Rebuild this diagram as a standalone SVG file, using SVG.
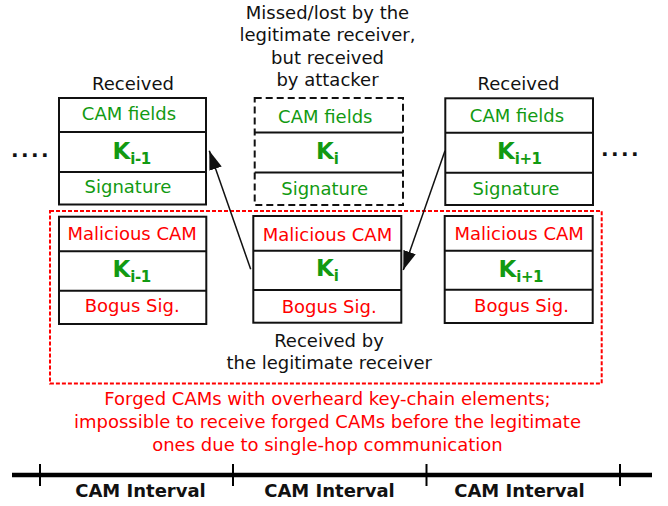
<svg xmlns="http://www.w3.org/2000/svg" width="668" height="506" viewBox="0 0 668 506">
<style>
text{font-family:"DejaVu Sans","Liberation Sans",sans-serif;font-size:18px;}
.c{text-anchor:middle;}
.blk{fill:#111;}
.g{fill:#129a12;}
.r{fill:#ff0000;}
.k{font-weight:bold;font-size:23px;fill:#129a12;}
.ks{font-size:15px;letter-spacing:-0.5px;}
.box{fill:#fff;stroke:#111;stroke-width:2;}
.dbox{fill:#fff;stroke:#111;stroke-width:2;stroke-dasharray:7,4;}
.div{stroke:#111;stroke-width:2;}
.b{font-weight:bold;}
</style>
<defs>
<marker id="ah" markerUnits="userSpaceOnUse" markerWidth="20" markerHeight="14" refX="19" refY="6.5" orient="auto">
<path d="M0,0 L19,6.5 L0,13 z" fill="#111"/>
</marker>
</defs>

<rect id="forged-region" x="50" y="211" width="551.7" height="172.5" fill="none" stroke="#ff0000" stroke-width="2" stroke-dasharray="4,2"/>

<g id="label-missed">
<text class="c blk" x="327.5" y="18.5">Missed/lost by the</text>
<text class="c blk" x="327.5" y="41">legitimate receiver,</text>
<text class="c blk" x="327.5" y="63.5">but received</text>
<text class="c blk" x="327.5" y="86">by attacker</text>
</g>
<text class="c blk" x="133" y="90">Received</text>
<text class="c blk" x="518.5" y="90">Received</text>
<text class="blk b" x="11" y="156.5" style="letter-spacing:2.4px;font-size:20px">....</text>
<text class="blk b" x="601" y="156" style="letter-spacing:2.4px;font-size:20px">....</text>

<g id="top-left">
<rect class="box" x="59" y="98" width="147" height="106.5"/>
<line class="div" x1="59" y1="132" x2="206" y2="132"/>
<line class="div" x1="59" y1="172" x2="206" y2="172"/>
<text class="c g" x="129" y="119.5">CAM fields</text>
<text class="k" x="112.5" y="159">K<tspan class="ks" dy="4.5">i-1</tspan></text>
<text class="c g" x="128" y="193">Signature</text>
</g>

<g id="top-middle">
<rect class="dbox" x="254.7" y="98" width="148.3" height="107"/>
<line class="div" x1="254.7" y1="132.5" x2="403" y2="132.5"/>
<line class="div" x1="254.7" y1="172.5" x2="403" y2="172.5"/>
<text class="c g" x="325.3" y="122.5">CAM fields</text>
<text class="k" x="316" y="159.3">K<tspan class="ks" dy="4.2">i</tspan></text>
<text class="c g" x="324.7" y="195">Signature</text>
</g>

<g id="top-right">
<rect class="box" x="445.3" y="98.3" width="147.7" height="106.7"/>
<line class="div" x1="445.3" y1="132.7" x2="593" y2="132.7"/>
<line class="div" x1="445.3" y1="172.7" x2="593" y2="172.7"/>
<text class="c g" x="517" y="121.7">CAM fields</text>
<text class="k" x="497" y="159.3">K<tspan class="ks" dy="4.7">i+1</tspan></text>
<text class="c g" x="516" y="195">Signature</text>
</g>

<g id="bottom-left">
<rect class="box" x="59" y="216.7" width="147.3" height="107.3"/>
<line class="div" x1="59" y1="251.3" x2="206.3" y2="251.3"/>
<line class="div" x1="59" y1="290.7" x2="206.3" y2="290.7"/>
<text class="c r" x="132.2" y="240">Malicious CAM</text>
<text class="k" x="112.5" y="277.3">K<tspan class="ks" dy="4.4">i-1</tspan></text>
<text class="c r" x="132.2" y="311.7">Bogus Sig.</text>
</g>

<g id="bottom-middle">
<rect class="box" x="253.3" y="216" width="148" height="106.7"/>
<line class="div" x1="253.3" y1="250.7" x2="401.3" y2="250.7"/>
<line class="div" x1="253.3" y1="290" x2="401.3" y2="290"/>
<text class="c r" x="327.5" y="240.7">Malicious CAM</text>
<text class="k" x="316" y="276">K<tspan class="ks" dy="4.7">i</tspan></text>
<text class="c r" x="329.2" y="312.7">Bogus Sig.</text>
</g>

<g id="bottom-right">
<rect class="box" x="444.7" y="216" width="148" height="107"/>
<line class="div" x1="444.7" y1="250.7" x2="592.7" y2="250.7"/>
<line class="div" x1="444.7" y1="289.7" x2="592.7" y2="289.7"/>
<text class="c r" x="519.2" y="240">Malicious CAM</text>
<text class="k" x="498.5" y="277.3">K<tspan class="ks" dy="4.4">i+1</tspan></text>
<text class="c r" x="521.5" y="311.7">Bogus Sig.</text>
</g>

<g id="label-received-legit">
<text class="c blk" x="329" y="346.7">Received by</text>
<text class="c blk" x="329.2" y="369">the legitimate receiver</text>
</g>

<g id="label-forged">
<text class="c r" x="327.5" y="405">Forged CAMs with overheard key-chain elements;</text>
<text class="c r" x="327.5" y="428">impossible to receive forged CAMs before the legitimate</text>
<text class="c r" x="327.5" y="451">ones due to single-hop communication</text>
</g>

<g id="connectors" stroke="#111" stroke-width="1.5" fill="none">
<line x1="250.7" y1="269.3" x2="209.3" y2="150.7" marker-end="url(#ah)"/>
<line x1="445" y1="150.7" x2="403.3" y2="270" marker-end="url(#ah)"/>
</g>

<g id="timeline">
<line x1="12" y1="475" x2="652" y2="475" stroke="#000" stroke-width="4.5"/>
<g stroke="#000" stroke-width="2">
<line x1="40" y1="464" x2="40" y2="486"/>
<line x1="233" y1="464" x2="233" y2="486"/>
<line x1="426.5" y1="464" x2="426.5" y2="486"/>
<line x1="620" y1="464" x2="620" y2="486"/>
</g>
<text class="c b blk" x="140.5" y="497">CAM Interval</text>
<text class="c b blk" x="329.5" y="497">CAM Interval</text>
<text class="c b blk" x="519.5" y="497">CAM Interval</text>
</g>
</svg>
